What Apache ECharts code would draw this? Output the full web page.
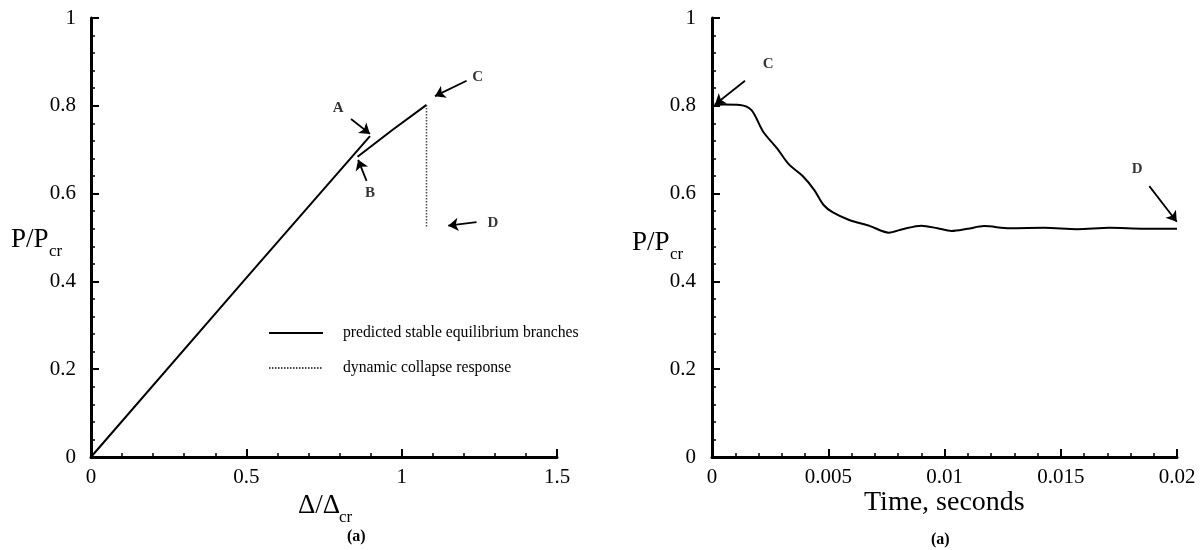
<!DOCTYPE html>
<html>
<head>
<meta charset="utf-8">
<script src="https://cdn.jsdelivr.net/npm/echarts@6/dist/echarts.min.js"></script>
<style>
html,body{margin:0;padding:0;background:#fff;}
#chart{width:1204px;height:550px;}
</style>
</head>
<body>
<div id="chart"></div>
<script>
// ---- Left panel: load vs. displacement ----
const branch1X = [0, 0.5, 0.898];
const branch1Y = [0, 0.408, 0.731];
const branch2X = [0.858, 0.97, 1.08];
const branch2Y = [0.684, 0.745, 0.802];
const collapseX = [1.08, 1.08];
const collapseY = [0.802, 0.525];

// ---- Right panel: load vs. time ----
const timeS = [0, 0.0005, 0.0012, 0.0017, 0.0022, 0.0028, 0.0033, 0.0039, 0.0044, 0.0048,
               0.0052, 0.0059, 0.0068, 0.0076, 0.0082, 0.0090, 0.0097, 0.0103, 0.0110, 0.0117,
               0.0128, 0.0143, 0.0157, 0.0171, 0.0186, 0.0200];
const loadRatio = [0.800, 0.803, 0.802, 0.790, 0.741, 0.703, 0.667, 0.640, 0.608, 0.574,
                   0.557, 0.540, 0.526, 0.511, 0.519, 0.527, 0.521, 0.515, 0.520, 0.526,
                   0.521, 0.522, 0.519, 0.522, 0.520, 0.520];

// ---- Annotations (data coordinates) ----
const leftNoteText = ['A', 'B', 'C', 'D'];
const leftNoteAt = [[0.796, 0.794], [0.898, 0.601], [1.245, 0.866], [1.294, 0.533]];
const leftArrowFrom = [[0.837, 0.770], [0.887, 0.629], [1.209, 0.857], [1.241, 0.535]];
const leftArrowTo = [[0.898, 0.736], [0.860, 0.677], [1.107, 0.822], [1.150, 0.527]];
const rightNoteText = ['C', 'D'];
const rightNoteAt = [[0.00242, 0.894], [0.01829, 0.655]];
const rightArrowFrom = [[0.00142, 0.857], [0.01881, 0.617]];
const rightArrowTo = [[0.00013, 0.803], [0.01999, 0.536]];

// ---- Axis ticks ----
const leftXTicks = [0, 0.5, 1, 1.5];
const rightXTicks = [0, 0.005, 0.01, 0.015, 0.02];
const yTicks = [0, 0.2, 0.4, 0.6, 0.8, 1];

const legendNames = ['predicted stable equilibrium branches', 'dynamic collapse response'];

const zip = (a, b) => a.map((v, i) => [v, b[i]]);
const FONT = '"Liberation Serif", "DejaVu Serif", serif';

function valueAxis(gridIndex, ticks, minorSplit) {
  const step = ticks[1] - ticks[0];
  return {
    type: 'value', gridIndex: gridIndex,
    min: ticks[0], max: ticks[ticks.length - 1], interval: step,
    axisLine: { show: true, onZero: false, lineStyle: { color: '#000', width: 3 } },
    axisTick: { show: true, inside: true, length: 8, lineStyle: { color: '#000', width: 2 } },
    minorTick: { show: true, splitNumber: minorSplit, length: 4, lineStyle: { color: '#000', width: 1.5 } },
    splitLine: { show: false },
    minorSplitLine: { show: false },
    axisLabel: {
      color: '#000', fontFamily: FONT, fontSize: 21,
      formatter: v => String(+(+v).toFixed(4))
    }
  };
}

function notesSeries(xi, texts, at, from, to) {
  return {
    type: 'scatter', xAxisIndex: xi, yAxisIndex: xi, silent: true,
    symbolSize: 1, itemStyle: { color: 'rgba(0,0,0,0)' },
    label: { show: true, position: 'inside', formatter: p => p.name,
             color: '#000', fontFamily: FONT, fontWeight: 'bold', fontSize: 15 },
    data: texts.map((t, i) => ({ name: t, value: at[i] })),
    markLine: {
      silent: true, animation: false,
      symbol: ['none', 'arrow'], symbolSize: 10,
      label: { show: false },
      lineStyle: { type: 'solid', color: '#000', width: 1.8 },
      emphasis: { disabled: true },
      data: from.map((f, i) => [{ coord: f }, { coord: to[i] }])
    }
  };
}

const xL = valueAxis(0, leftXTicks, 5);
xL.axisLabel.margin = 10;
const xR = valueAxis(1, rightXTicks, 5);
xR.axisLabel.margin = 10;
const yL = valueAxis(0, yTicks, 5);
yL.axisLabel.margin = 15;
const yR = valueAxis(1, yTicks, 5);
yR.axisLabel.margin = 16;

const chart = echarts.init(document.getElementById('chart'), null, { renderer: 'canvas' });
chart.setOption({
  animation: false,
  backgroundColor: '#fff',
  grid: [
    { left: 91, top: 18, width: 466, height: 439, containLabel: false, outerBoundsMode: 'none' },
    { left: 712, top: 18, width: 465, height: 439, containLabel: false, outerBoundsMode: 'none' }
  ],
  xAxis: [xL, xR],
  yAxis: [yL, yR],
  legend: {
    data: legendNames,
    orient: 'vertical', left: 263, top: 320,
    itemWidth: 54, itemHeight: 14, itemGap: 19,
    selectedMode: false,
    itemStyle: { opacity: 0 },
    textStyle: { color: '#000', fontFamily: FONT, fontSize: 15.7, padding: [0, 0, 0, 15] }
  },
  graphic: [
    { type: 'text', left: 11, top: 226, style: { text: 'P/P', font: '27px ' + FONT, fill: '#000' } },
    { type: 'text', left: 49, top: 243, style: { text: 'cr', font: '17px ' + FONT, fill: '#000' } },
    { type: 'text', left: 298, top: 492, style: { text: 'Δ/Δ', font: '27px ' + FONT, fill: '#000' } },
    { type: 'text', left: 339, top: 509, style: { text: 'cr', font: '17px ' + FONT, fill: '#000' } },
    { type: 'text', left: 347, top: 529, style: { text: '(a)', font: 'bold 16px ' + FONT, fill: '#000' } },
    { type: 'text', left: 632, top: 229, style: { text: 'P/P', font: '27px ' + FONT, fill: '#000' } },
    { type: 'text', left: 670, top: 246, style: { text: 'cr', font: '17px ' + FONT, fill: '#000' } },
    { type: 'text', left: 864, top: 489, style: { text: 'Time, seconds', font: '28px ' + FONT, fill: '#000' } },
    { type: 'text', left: 931, top: 532, style: { text: '(a)', font: 'bold 16px ' + FONT, fill: '#000' } }
  ],
  series: [
    { name: legendNames[0], type: 'line', xAxisIndex: 0, yAxisIndex: 0, color: '#000',
      symbol: 'none', lineStyle: { color: '#000', width: 2 }, data: zip(branch1X, branch1Y) },
    { name: legendNames[0], type: 'line', xAxisIndex: 0, yAxisIndex: 0, color: '#000',
      symbol: 'none', lineStyle: { color: '#000', width: 2 }, data: zip(branch2X, branch2Y) },
    { name: legendNames[1], type: 'line', xAxisIndex: 0, yAxisIndex: 0, color: '#444',
      symbol: 'none', lineStyle: { color: '#444', width: 1.5, type: [1.5, 1.5] }, data: zip(collapseX, collapseY) },
    notesSeries(0, leftNoteText, leftNoteAt, leftArrowFrom, leftArrowTo),
    { name: 'response', type: 'line', xAxisIndex: 1, yAxisIndex: 1, color: '#000',
      symbol: 'none', smooth: 0.3, lineStyle: { color: '#000', width: 2 }, data: zip(timeS, loadRatio) },
    notesSeries(1, rightNoteText, rightNoteAt, rightArrowFrom, rightArrowTo)
  ]
});
</script>
</body>
</html>
